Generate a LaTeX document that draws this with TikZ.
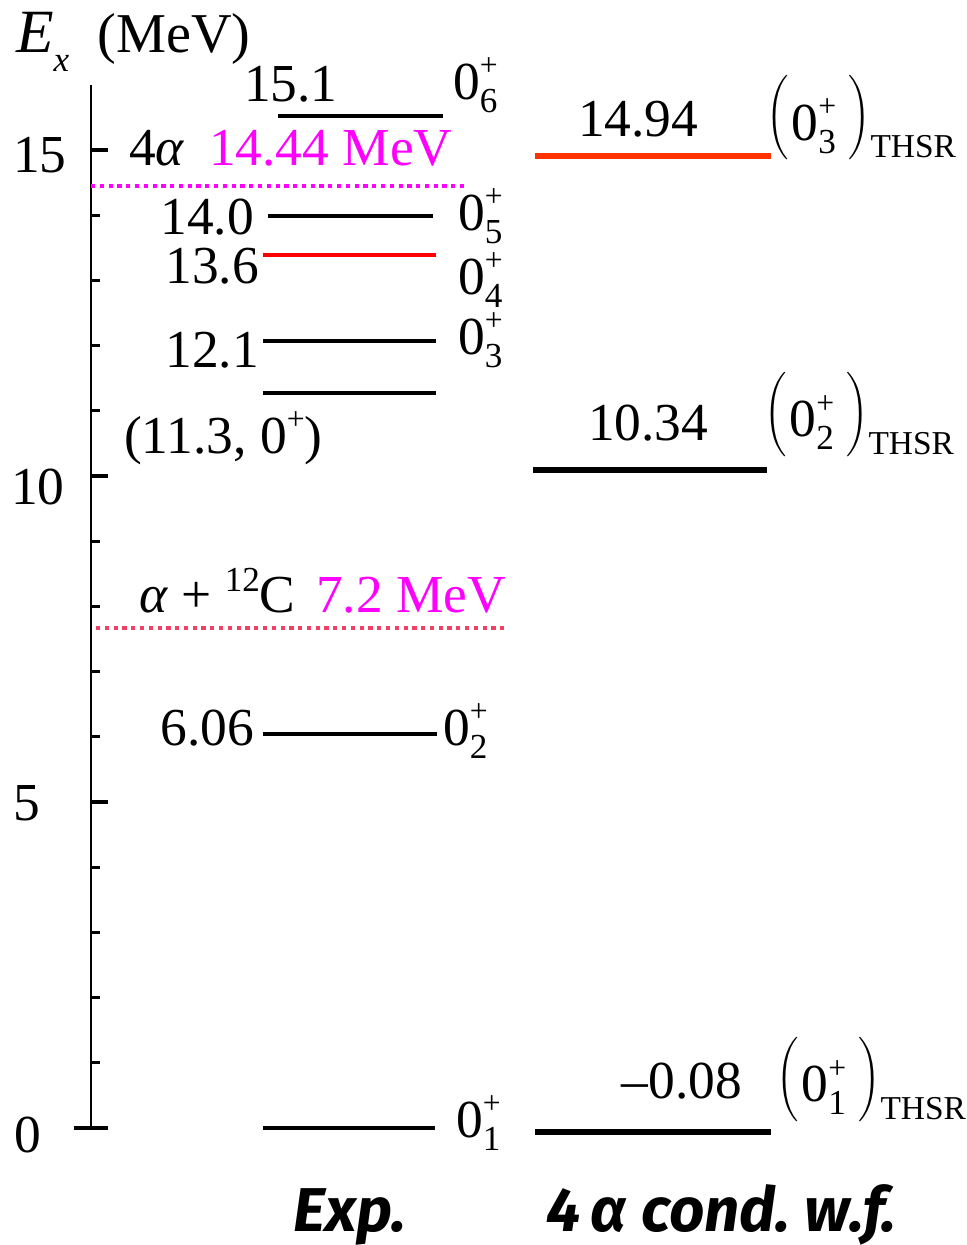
\documentclass[tikz,border=0pt]{standalone}
\usepackage{fontspec}
\setmainfont{Liberation Serif}
\newfontfamily\headfont{Fira Sans}
\usetikzlibrary{positioning}
\definecolor{thsrred}{RGB}{255,51,0}
\definecolor{thrpink}{RGB}{240,64,100}
\definecolor{thrmag}{RGB}{255,0,255}
\newcommand{\jpi}[1]{0\rlap{\raisebox{6.8pt}{\fontsize{9}{9}\selectfont +}}\raisebox{-3.7pt}{\fontsize{10}{10}\selectfont #1}}
\newcommand{\bpar}[1]{\raisebox{3.5pt}{\scalebox{0.8}{$#1$}}}
\newcommand{\thsr}[1]{\bpar{\left(\vrule height 17pt depth 7pt width 0pt\right.}\jpi{#1}\,\bpar{\left.\vrule height 17pt depth 7pt width 0pt\right)}\raisebox{-5pt}{\fontsize{9.5}{9.5}\selectfont THSR}}
\tikzset{
  every picture/.style={line width=0.6pt},
  num/.style={inner sep=0pt,font=\fontsize{15.2}{18}\selectfont},
  colhead/.style={inner sep=0pt,font=\headfont\bfseries\itshape\fontsize{17.6}{20}\selectfont},
  lev/.style={line width=1.1pt},
  thlev/.style={line width=1.8pt},
  thr/.style={line width=1.1pt,dash pattern=on 1.2pt off 1.3pt},
  tck/.style={line width=0.9pt},
}

\begin{document}
\begin{tikzpicture}[x=1cm,y=0.652cm]
\useasboundingbox (0,-1.794) rectangle (9.66,17.301);
% energy axis
\draw (0.91,0) -- (0.91,16);
\foreach \e in {1,...,15} \draw[tck] (0.91,\e) -- (1.00,\e);
\foreach \e in {5,10,15} \draw[tck] (0.91,\e) -- (1.08,\e);
\draw[tck] (0.74,0) -- (1.08,0);
\node[num,anchor=base west] (t15) at (0.12,14.66) {15};
\node[num,anchor=base west] (t10) at (0.10,9.56) {10};
\node[num,anchor=base west] (t5) at (0.12,4.72) {5};
\node[num,anchor=base west] (t0) at (0.13,-0.38) {0};
\node[num,anchor=base west] (ex) at (0.15,16.49) {\fontsize{17.5}{18}\selectfont\textit{E}\raisebox{-5.4pt}{\fontsize{10}{10}\selectfont\textit{x}}\hspace{8pt}\fontsize{16}{18}\selectfont(MeV)};
% experiment
\draw[lev] (2.78,15.52) -- (4.43,15.52);
\node[num,anchor=base west] (e151) at (2.43,15.74) {15.1};
\node[num,anchor=base west] (j6) at (4.52,15.77) {\jpi{6}};
\draw[thr,thrmag] (0.91,14.45) -- (4.65,14.45);
\node[num,anchor=base west] (fa) at (1.28,14.77) {4\textit{α}};
\node[num,anchor=base west,thrmag] (fae) at (2.08,14.77) {14.44 MeV};
\draw[lev] (2.68,13.99) -- (4.33,13.99);
\node[num,anchor=base east] (e140) at (2.55,13.71) {14.0};
\node[num,anchor=base west] (j5) at (4.57,13.77) {\jpi{5}};
\draw[lev,red] (2.63,13.39) -- (4.36,13.39);
\node[num,anchor=base east] (e136) at (2.60,12.96) {13.6};
\node[num,anchor=base west] (j4) at (4.57,12.78) {\jpi{4}};
\draw[lev] (2.63,12.07) -- (4.36,12.07);
\node[num,anchor=base east] (e121) at (2.60,11.67) {12.1};
\node[num,anchor=base west] (j3) at (4.57,11.86) {\jpi{3}};
\draw[lev] (2.63,11.27) -- (4.36,11.27);
\node[num,anchor=base west] (e113) at (1.23,10.35) {(11.3, 0\raisebox{6.8pt}{\fontsize{9}{9}\selectfont +})};
\draw[thr,thrpink] (0.96,7.67) -- (5.07,7.67);
\node[num,anchor=base west] (ac) at (1.38,7.90) {\textit{α} + \raisebox{6pt}{\fontsize{10}{10}\selectfont 12}C};
\node[num,anchor=base east,thrmag] (ace) at (5.07,7.90) {7.2 MeV};
\draw[lev] (2.63,6.04) -- (4.37,6.04);
\node[num,anchor=base east] (e606) at (2.55,5.87) {6.06};
\node[num,anchor=base west] (j2) at (4.42,5.87) {\jpi{2}};
\draw[lev] (2.63,0) -- (4.35,0);
\node[num,anchor=base west] (j1) at (4.55,-0.15) {\jpi{1}};
% 4 alpha condensate
\draw[thlev,thsrred] (5.35,14.91) -- (7.71,14.91);
\node[num,anchor=base west] (c1494) at (5.77,15.21) {14.94};
\node[num,anchor=base west] (th3) at (7.65,15.15) {\thsr{3}};
\draw[thlev] (5.33,10.09) -- (7.67,10.09);
\node[num,anchor=base west] (c1034) at (5.87,10.55) {10.34};
\node[num,anchor=base west] (th2) at (7.63,10.60) {\thsr{2}};
\draw[thlev] (5.35,-0.06) -- (7.71,-0.06);
\node[num,anchor=base east] (c008) at (7.43,0.46) {–0.08};
\node[num,anchor=base west] (th1) at (7.75,0.40) {\thsr{1}};
% column heads
\node[colhead,anchor=base west] (hexp) at (2.92,-1.58) {Exp.};
\node[colhead,anchor=base west] (hcond) at (5.45,-1.58) {4\,α cond.\ w.f.};
\end{tikzpicture}
\end{document}
